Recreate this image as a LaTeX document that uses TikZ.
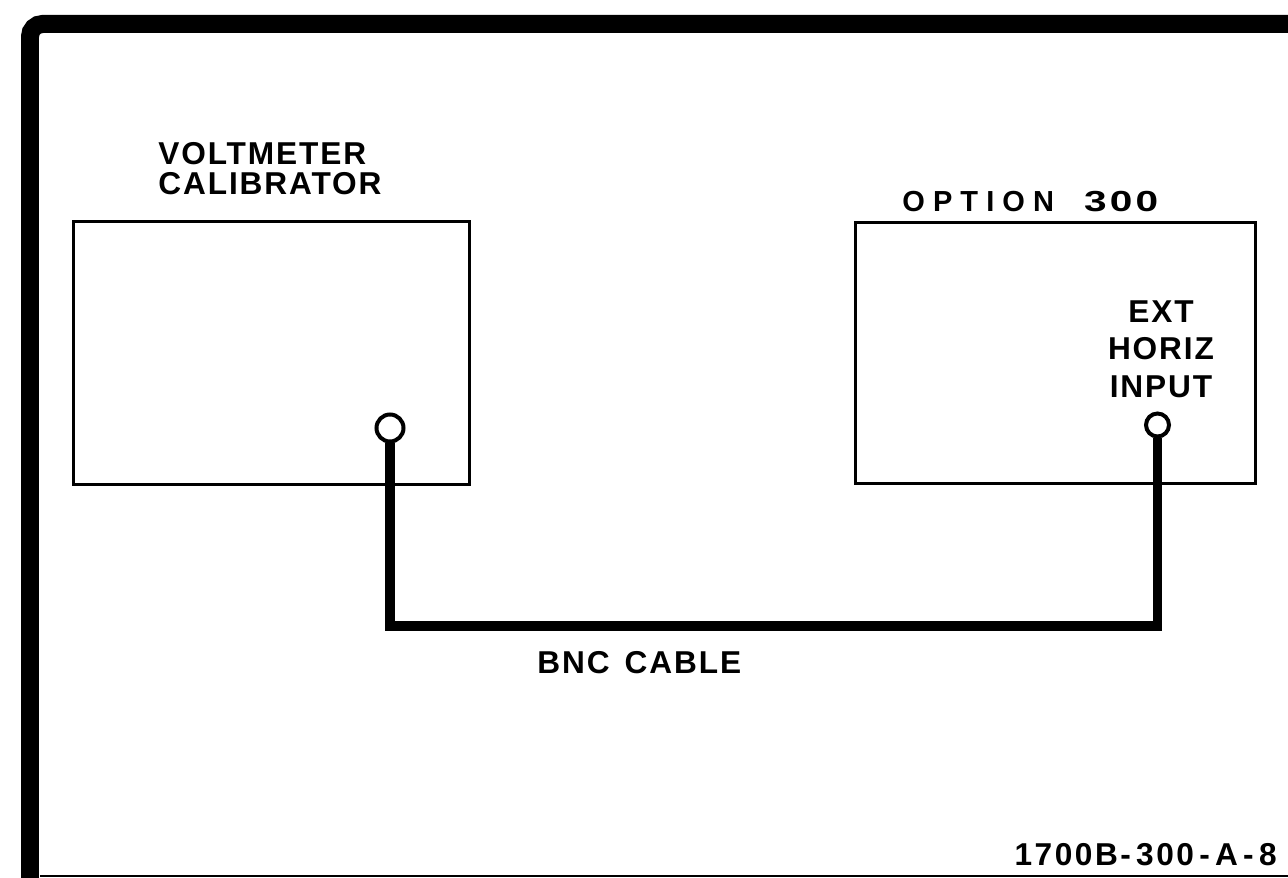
\documentclass[tikz,border=0pt]{standalone}
\usepackage{fontspec}
\usepackage{graphicx}
\setmainfont{Liberation Sans}
\newfontfamily\lblfont{Liberation Sans}[LetterSpace=6]
\newfontfamily\optfont{Liberation Sans}[LetterSpace=28]
\newfontfamily\numfont{Liberation Sans}[LetterSpace=8]
\begin{document}
\begin{tikzpicture}[x=0.02cm,y=-0.02cm,
  box/.style={draw,line width=0.06cm,minimum width=#1,inner sep=0pt},
  jack/.style={draw,circle,line width=0.08cm,inner sep=0pt,fill=white},
  cable/.style={line width=0.19cm,line join=miter},
  lbl/.style={inner sep=0pt,font=\lblfont\bfseries\fontsize{18pt}{17pt}\selectfont},
  frame/.style={line width=0.36cm}]
\useasboundingbox (0,0) rectangle (1288,878);
% outer frame
\draw[frame,rounded corners=0.25cm] (30,890) -- (30,24) -- (1300,24);
\draw[line width=0.03cm] (40,876) -- (1288,876);
% boxes
\node[box=7.94cm,minimum height=5.28cm] (vc) at (271.5,353) {};
\node[box=8.02cm,minimum height=5.24cm] (op) at (1055.5,353) {};
% cable
\coordinate (cb) at (775,626);
\node[jack,minimum size=0.54cm] (j1) at (390,428) {};
\node[jack,minimum size=0.46cm] (j2) at (1157.5,425) {};
\draw[cable] (j1.south) |- (cb) -| (j2.south);
% labels
\node[lbl,anchor=north west,align=left] (vct) at (158,142) {VOLTMETER\\CALIBRATOR};
\node[inner sep=0pt,anchor=base west,font=\optfont\bfseries\fontsize{16.5pt}{18pt}\selectfont] (opt) at (902,212) {OPTION\hspace{0.6cm}\scalebox{1.4}[1]{\numfont 300}};
\node[lbl,anchor=north,align=center,font=\lblfont\bfseries\fontsize{18pt}{21.5pt}\selectfont] (ext) at (1161,300) {EXT\\HORIZ\\INPUT};
\node[lbl,anchor=base west] (bnc) at (537,673) {BNC\hspace{0.3cm}CABLE};
\node[lbl,anchor=base east,font=\numfont\bfseries\fontsize{18pt}{17pt}\selectfont] (fig) at (1277,865) {1700B-\,300\,-\,A\,-\,8};
\end{tikzpicture}
\end{document}
